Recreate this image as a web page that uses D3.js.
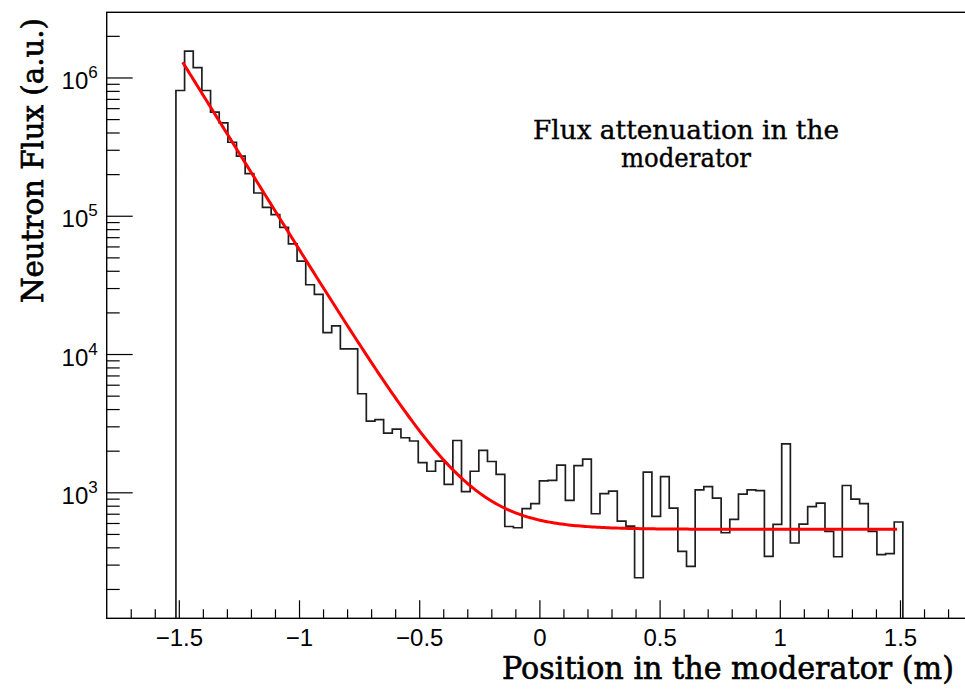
<!DOCTYPE html>
<html>
<head>
<meta charset="utf-8">
<script src="https://cdn.jsdelivr.net/npm/d3@7/dist/d3.min.js"></script>
<style>
  html, body { margin: 0; padding: 0; background: #fff; }
  svg { display: block; }
</style>
</head>
<body>
<svg id="chart" width="965" height="695"></svg>
<script>
// ---------------- data ----------------
const binStart = -1.512;      // first bin low edge (m)
const binWidth = 0.036;       // bin width (m)
const fluxValues = [
  8.05e5, 1.55e6, 1.18e6, 8.05e5, 5.61e5, 4.70e5, 3.40e5, 2.70e5, 2.02e5, 1.46e5,
  1.15e5, 1.02e5, 8.23e4, 6.27e4, 4.70e4, 3.17e4, 2.70e4, 1.43e4, 1.60e4, 1.09e4,
  1.09e4, 5160, 3270, 3350, 2680, 2860, 2480, 2350, 1640, 1420,
  1680, 1140, 2370, 1010, 1420, 2010, 1670, 1350, 566, 554,
  761, 827, 1210, 1220, 1570, 874, 1560, 1740, 700, 977,
  1020, 619, 570, 241, 1400, 670, 1300, 769, 374, 291,
  1040, 1100, 908, 510, 637, 970, 1040, 1030, 344, 586,
  2240, 430, 589, 787, 836, 521, 342, 1120, 893, 827,
  521, 354, 360, 610
];
// fit: exp(p0 + p1*x) + p2
const fitParams = [4.498, -6.45, 540];
const fitRange = [-1.484, 1.488];

const xDomain = [-1.8, 1.8];
const yDomain = [122.7, 2.96e6];
const xMajorTicks = [-1.5, -1, -0.5, 0, 0.5, 1, 1.5];
const xTickLabels = ["\u22121.5", "\u22121", "\u22120.5", "0", "0.5", "1", "1.5"];
const yMajorTicks = [1e3, 1e4, 1e5, 1e6];
const yTickExponents = ["3", "4", "5", "6"];
const xTitle = "Position in the moderator (m)";
const yTitle = "Neutron Flux (a.u.)";
const noteLines = ["Flux attenuation in the", "moderator"];

// ---------------- layout ----------------
const L = 106.7, R = 972.1, T = 12.3, B = 618.3;
const svg = d3.select("#chart");
svg.append("rect").attr("width", 965).attr("height", 695).attr("fill", "#fff");

const x = d3.scaleLinear().domain(xDomain).range([L, R]);
const y = d3.scaleLog().domain(yDomain).range([B, T]);

const sans = "'Liberation Sans', Arimo, Helvetica, Arial, sans-serif";
const serif = "'DejaVu Serif', 'Liberation Serif', serif";

// clip
svg.append("defs").append("clipPath").attr("id", "plotclip")
  .append("rect").attr("x", L).attr("y", T).attr("width", R - L).attr("height", B - T);

// histogram
const steps = [[binStart, null]];
fluxValues.forEach((v, i) => {
  steps.push([binStart + i * binWidth, v]);
  steps.push([binStart + (i + 1) * binWidth, v]);
});
steps.push([binStart + fluxValues.length * binWidth, null]);
const histLine = d3.line()
  .x(d => x(d[0]))
  .y(d => d[1] === null ? y(yDomain[0]) : y(d[1]));
svg.append("path")
  .attr("clip-path", "url(#plotclip)")
  .attr("d", histLine(steps))
  .attr("fill", "none")
  .attr("stroke", "#1e1e1e")
  .attr("stroke-width", 1.7)
  .attr("stroke-linejoin", "miter");

// fit curve
const fitFn = xv => Math.exp(fitParams[0] + fitParams[1] * xv) + fitParams[2];
const nFit = 300;
const fitPts = d3.range(nFit + 1).map(k => {
  const xv = fitRange[0] + (fitRange[1] - fitRange[0]) * k / nFit;
  return [xv, fitFn(xv)];
});
svg.append("path")
  .attr("clip-path", "url(#plotclip)")
  .attr("d", d3.line().x(d => x(d[0])).y(d => y(d[1]))(fitPts))
  .attr("fill", "none")
  .attr("stroke", "#ff0000")
  .attr("stroke-width", 3);

// frame
svg.append("rect")
  .attr("x", L).attr("y", T).attr("width", R - L).attr("height", B - T)
  .attr("fill", "none").attr("stroke", "#000").attr("stroke-width", 1.4);

// x axis
const xMinor = d3.range(-17, 18).map(k => k / 10).filter(v => Math.abs(v * 2 - Math.round(v * 2)) > 1e-6);
const gxMinor = svg.append("g").attr("transform", `translate(0,${B})`)
  .call(d3.axisBottom(x).tickValues(xMinor).tickSize(-9).tickFormat(""));
const gx = svg.append("g").attr("transform", `translate(0,${B})`)
  .call(d3.axisBottom(x).tickValues(xMajorTicks).tickSize(-18).tickPadding(10)
    .tickFormat((d, i) => xTickLabels[i]));
[gxMinor, gx].forEach(g => {
  g.select(".domain").remove();
  g.selectAll("line").attr("stroke", "#000").attr("stroke-width", 1.2);
});
gx.selectAll("text")
  .attr("y", 27.5).attr("dy", null)
  .attr("font-family", sans).attr("font-size", 24).attr("fill", "#000");

// y axis
const yMinor = [];
[100, 1e3, 1e4, 1e5, 1e6].forEach(dec => {
  for (let k = 2; k <= 9; k++) {
    const v = k * dec;
    if (v >= yDomain[0] && v <= yDomain[1]) yMinor.push(v);
  }
});
const gyMinor = svg.append("g").attr("transform", `translate(${L},0)`)
  .call(d3.axisLeft(y).tickValues(yMinor).tickSize(-13).tickFormat(""));
const gy = svg.append("g").attr("transform", `translate(${L},0)`)
  .call(d3.axisLeft(y).tickValues(yMajorTicks).tickSize(-26).tickPadding(9).tickFormat(""));
[gyMinor, gy].forEach(g => {
  g.select(".domain").remove();
  g.selectAll("line").attr("stroke", "#000").attr("stroke-width", 1.2);
});
gy.selectAll("text").each(function (d, i) {
  const t = d3.select(this)
    .attr("dy", null).attr("y", 11)
    .attr("font-family", sans).attr("font-size", 24).attr("fill", "#000")
    .attr("text-anchor", "end");
  t.text(null);
  t.append("tspan").text("10");
  t.append("tspan").attr("dy", -11).attr("font-size", 17).text(yTickExponents[i]);
});

// titles
svg.append("text")
  .attr("x", 502).attr("y", 679)
  .attr("font-family", serif).attr("font-size", 31)
  .attr("textLength", 452).attr("lengthAdjust", "spacingAndGlyphs")
  .attr("fill", "#000").attr("stroke", "#000").attr("stroke-width", 0.6)
  .text(xTitle);

svg.append("text")
  .attr("transform", "translate(42.5,303) rotate(-90)")
  .attr("font-family", serif).attr("font-size", 30)
  .attr("textLength", 285).attr("lengthAdjust", "spacingAndGlyphs")
  .attr("fill", "#000").attr("stroke", "#000").attr("stroke-width", 0.7)
  .text(yTitle);

const note = svg.append("g");
const noteLen = [306, 130];
noteLines.forEach((s, i) => {
  note.append("text")
    .attr("x", 686).attr("y", 139 + i * 28)
    .attr("text-anchor", "middle")
    .attr("font-family", serif).attr("font-size", 26)
    .attr("textLength", noteLen[i]).attr("lengthAdjust", "spacingAndGlyphs")
    .attr("fill", "#000").attr("stroke", "#000").attr("stroke-width", 0.4)
    .text(s);
});
</script>
</body>
</html>
